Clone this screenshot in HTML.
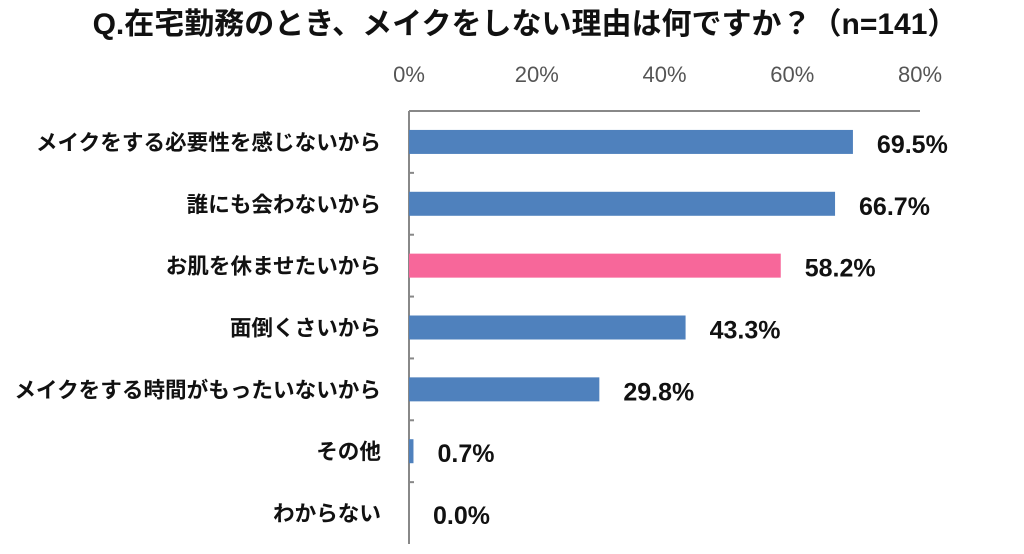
<!DOCTYPE html>
<html><head><meta charset="utf-8"><style>
body{margin:0;background:#fff;width:1024px;height:549px;overflow:hidden;font-family:"Liberation Sans","Noto Sans CJK JP",sans-serif;}
svg text{font-family:"Liberation Sans","Noto Sans CJK JP",sans-serif;}
</style></head><body>
<svg id="chart" width="1024" height="549" xmlns="http://www.w3.org/2000/svg">
<text x="525" y="34" text-anchor="middle" font-size="30" font-weight="bold" fill="#111">Q.在宅勤務のとき、メイクをしない理由は何ですか？（n=141）</text>
<g id="g"></g>
</svg>
<script>
const categories=["メイクをする必要性を感じないから","誰にも会わないから","お肌を休ませたいから","面倒くさいから","メイクをする時間がもったいないから","その他","わからない"];
const values=[69.5,66.7,58.2,43.3,29.8,0.7,0.0];
const valueLabels=["69.5%","66.7%","58.2%","43.3%","29.8%","0.7%","0.0%"];
const ticks=[0,20,40,60,80];
const tickLabels=["0%","20%","40%","60%","80%"];
const highlight=[false,false,true,false,false,false,false];
const x0=409,x1=920,yTop=111,yBot=544,maxV=80;
const xs=v=>x0+(x1-x0)*v/maxV;
const band=(yBot-yTop)/categories.length;
const yc=i=>yTop+band*(i+0.5);
const g=document.getElementById('g');
const NS='http://www.w3.org/2000/svg';
function mk(t,a){const e=document.createElementNS(NS,t);for(const k in a)e.setAttribute(k,a[k]);g.appendChild(e);return e;}
ticks.forEach((t,i)=>{const e=mk('text',{x:xs(t),y:82,'text-anchor':'middle','font-size':22,fill:'#555'});e.textContent=tickLabels[i];

});
const ax=mk('line',{x1:x0,y1:yTop,x2:x1,y2:yTop,stroke:'#888','stroke-width':2});


const ay=mk('line',{x1:x0,y1:yTop,x2:x0,y2:yBot,stroke:'#888','stroke-width':2});


for(let i=1;i<categories.length;i++){const t=mk('line',{x1:x0,y1:yTop+band*i,x2:x0+5,y2:yTop+band*i,stroke:'#888','stroke-width':2});

}
categories.forEach((c,i)=>{
const y=yc(i);
const l=mk('text',{x:381,y:y+8,'text-anchor':'end','font-size':21.6,'font-weight':'bold',fill:'#111'});l.textContent=c;


const w=xs(values[i])-x0;
const b=mk('rect',{x:x0,y:y-12,width:Math.max(w,0),height:24,fill:highlight[i]?'#f7679a':'#4f81bd'});


const v=mk('text',{x:xs(values[i])+24,y:y+11,'font-size':25,'font-weight':'bold',fill:'#111'});v.textContent=valueLabels[i];


});
</script>
</body></html>
